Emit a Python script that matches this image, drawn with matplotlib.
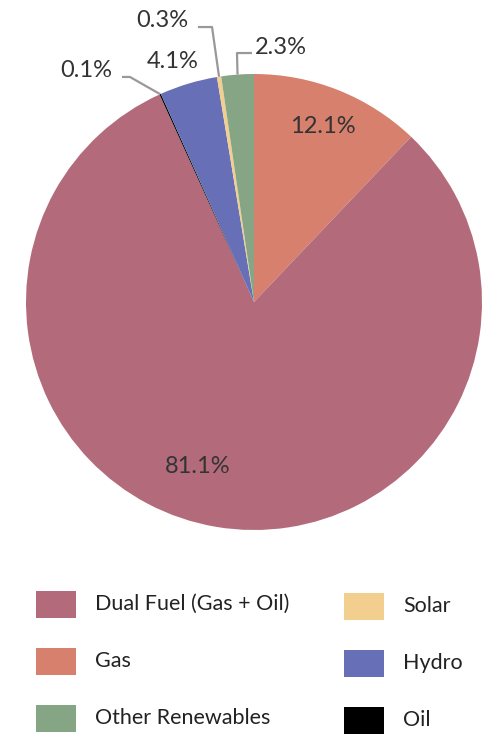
import matplotlib
matplotlib.use("Agg")
import matplotlib.pyplot as plt
import numpy as np
from matplotlib.patches import Rectangle

plt.rcParams["font.family"] = ["Lato", "DejaVu Sans"]

# --- data ---
labels = ["Gas", "Dual Fuel (Gas + Oil)", "Oil", "Hydro", "Solar", "Other Renewables"]
values = [12.1, 81.1, 0.1, 4.1, 0.3, 2.3]
colors = ["#D6806D", "#B36B7C", "#000000", "#6770B6", "#F2CF8F", "#86A585"]
legend_order = ["Dual Fuel (Gas + Oil)", "Gas", "Other Renewables", "Solar", "Hydro", "Oil"]

TXT = "#333333"
LEAD = "#999999"
FS = 17

W, H = 484, 735
fig = plt.figure(figsize=(W / 100, H / 100), dpi=100)

# axes covering top part; 228 px per data unit, pie centre at (254, 302) px
R = 228.0
cx, cy = 254.0, 302.0
ax_bottom_px = 560
ax = fig.add_axes([0, 1 - ax_bottom_px / H, 1, ax_bottom_px / H])
wedges, _ = ax.pie(values, colors=colors, startangle=90, counterclock=False,
                   radius=1, wedgeprops=dict(linewidth=0))
ax.set_xlim(-cx / R, (W - cx) / R)
ax.set_ylim((cy - ax_bottom_px) / R, cy / R)
ax.set_aspect("auto")
ax.axis("off")

pct = {lab: f"{v:.1f}%" for lab, v in zip(labels, values)}


def mid(w):
    return np.deg2rad((w.theta1 + w.theta2) / 2)


wmap = dict(zip(labels, wedges))

# inside labels
ax.text(0.300, 0.768, pct["Gas"], ha="center", va="center", fontsize=FS, color=TXT)
ax.text(-0.248, -0.72, pct["Dual Fuel (Gas + Oil)"], ha="center", va="center",
        fontsize=FS, color=TXT)
ax.text(-0.355, 1.053, pct["Hydro"], ha="center", va="center", fontsize=FS, color=TXT)

# leader-line labels: (label, elbow, end, text x, text y, ha)
leaders = [
    ("Oil", (-0.544, 0.987), (-0.579, 0.987), -0.62, 1.017, "right"),
    ("Solar", (-0.184, 1.206), (-0.246, 1.206), -0.289, 1.236, "right"),
    ("Other Renewables", (-0.0746, 1.092), (-0.009, 1.092), 0.004, 1.118, "left"),
]
for lab, elbow, end, tx, ty, ha in leaders:
    a = mid(wmap[lab])
    edge = (np.cos(a), np.sin(a))
    ax.plot([edge[0], elbow[0], end[0]], [edge[1], elbow[1], end[1]],
            color=LEAD, lw=1.6, solid_capstyle="butt", clip_on=False)
    ax.text(tx, ty, pct[lab], ha=ha, va="center", fontsize=FS, color=TXT)

# legend drawn by hand
cmap = dict(zip(labels, colors))
col_x = [36, 344]
row_y = [604, 661, 718]
for i, lab in enumerate(legend_order):
    c, r = divmod(i, 3)
    yc = row_y[r] + (2 if c == 1 else 0)
    x0 = col_x[c]
    fig.patches.append(Rectangle((x0 / W, 1 - (yc + 13.5) / H), 40 / W, 27 / H,
                                 transform=fig.transFigure, facecolor=cmap[lab],
                                 edgecolor="none"))
    fig.text((x0 + 59) / W, 1 - yc / H, lab, ha="left", va="center",
             fontsize=15.5, color="#222222")

fig.savefig("out.png", dpi=100)
